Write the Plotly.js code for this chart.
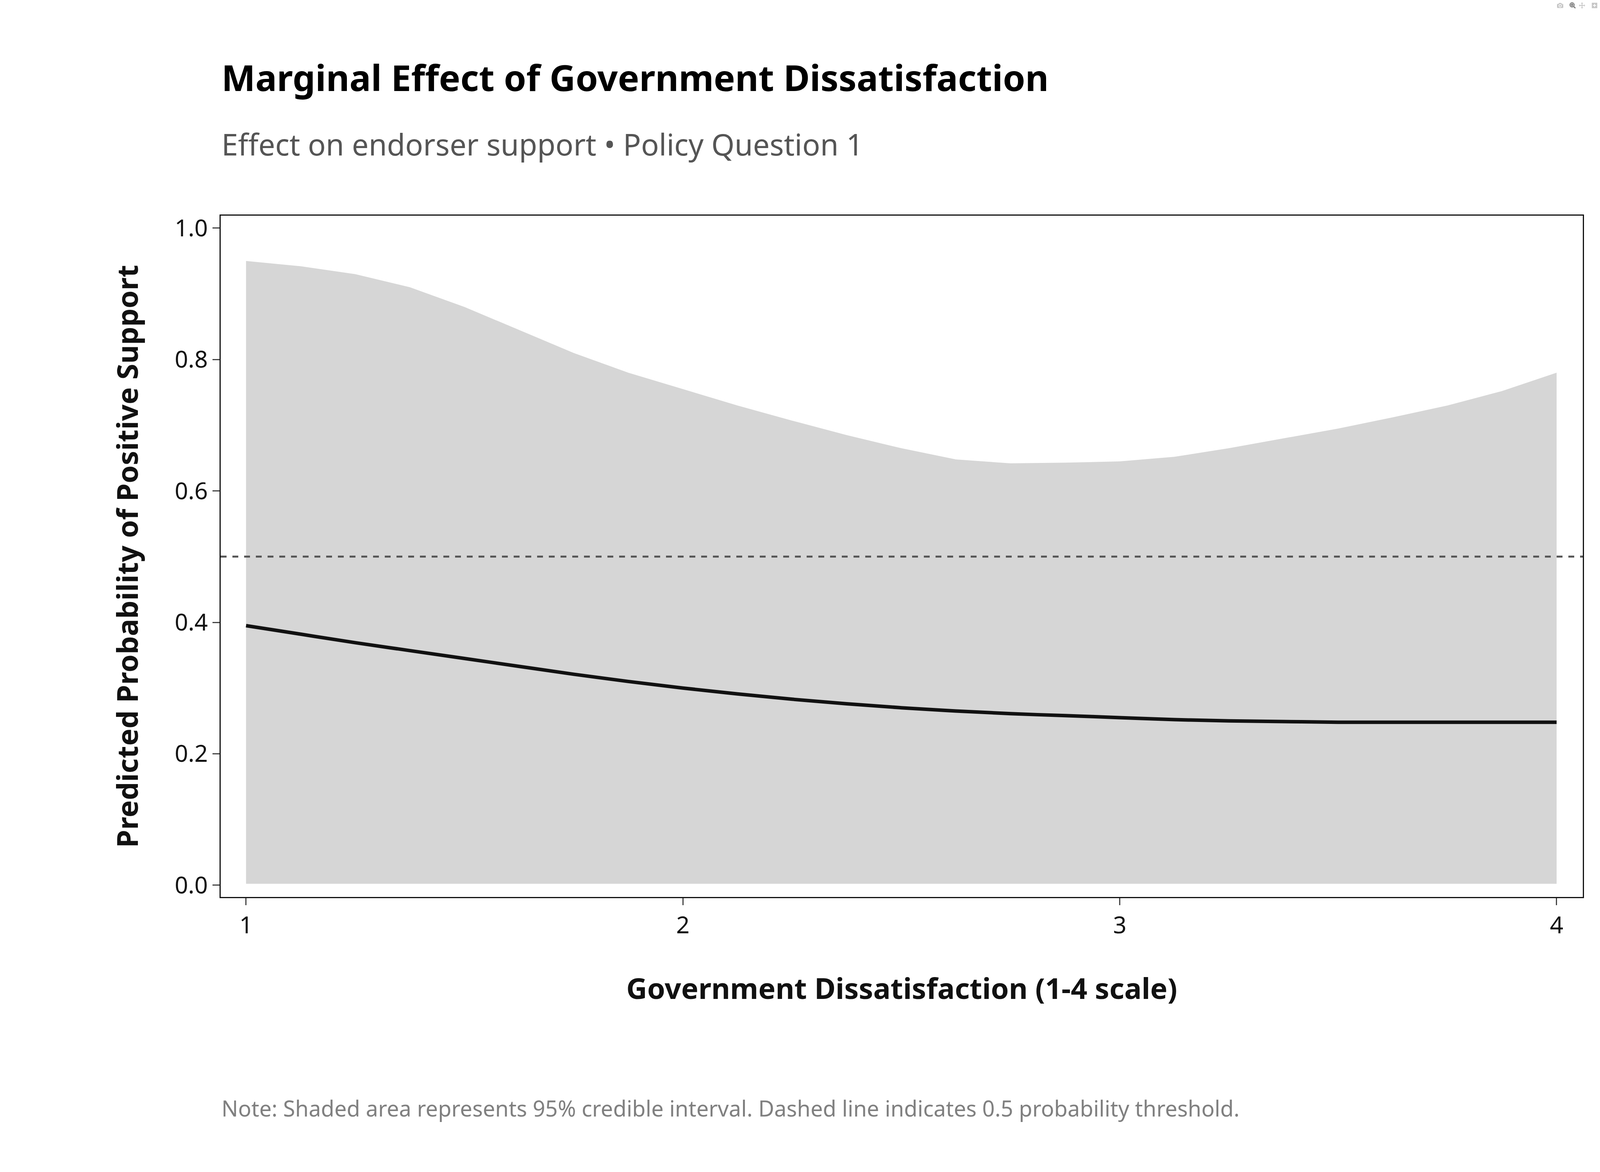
<!DOCTYPE html>
<html><head><meta charset="utf-8">
<script src="https://cdn.plot.ly/plotly-3.0.1.min.js"></script>
<style>body{margin:0;background:#fff}</style></head>
<body><div id="c" style="width:4200px;height:3000px"></div>
<script>
const xs = [1,1.125,1.25,1.375,1.5,1.625,1.75,1.875,2,2.125,2.25,2.375,2.5,2.625,2.75,2.875,3,3.125,3.25,3.375,3.5,3.625,3.75,3.875,4];
const upper = [0.95,0.942,0.93,0.91,0.88,0.845,0.81,0.78,0.755,0.73,0.707,0.685,0.665,0.648,0.642,0.643,0.645,0.652,0.665,0.68,0.695,0.712,0.73,0.752,0.78];
const lower = [0.002,0.002,0.002,0.002,0.002,0.002,0.002,0.002,0.002,0.002,0.002,0.002,0.002,0.002,0.002,0.002,0.002,0.002,0.002,0.002,0.002,0.002,0.002,0.002,0.002];
const mean = [0.395,0.382,0.369,0.357,0.345,0.333,0.321,0.31,0.3,0.291,0.283,0.276,0.27,0.265,0.261,0.258,0.255,0.252,0.25,0.249,0.248,0.248,0.248,0.248,0.248];
const F = 'Noto Sans, Open Sans, sans-serif';
Plotly.newPlot('c', [
 {x:xs,y:lower,mode:'lines',line:{width:0},hoverinfo:'skip',showlegend:false},
 {x:xs,y:upper,mode:'lines',line:{width:0},fill:'tonexty',fillcolor:'#d6d6d6',showlegend:false},
 {x:[0.942,4.06],y:[0.5,0.5],mode:'lines',line:{color:'#555',width:5,dash:'dash'},showlegend:false},
 {x:xs,y:mean,mode:'lines',line:{color:'#111',width:9,shape:'spline'},showlegend:false}
],{
 width:4200,height:3000,paper_bgcolor:'#fff',plot_bgcolor:'#fff',
 margin:{l:565,r:148,t:552,b:704},
 font:{family:F,color:'#111'},
 xaxis:{range:[0.942,4.06],tickvals:[1,2,3,4],ticktext:['1','2','3','4'],showgrid:false,zeroline:false,
   showline:true,mirror:true,linecolor:'#111',linewidth:3,ticks:'outside',ticklen:18,tickwidth:3,
   tickfont:{size:60,family:F},
   title:{text:'<b>Government Dissatisfaction (1-4 scale)</b>',font:{size:74,family:F},standoff:100}},
 yaxis:{range:[-0.018,1.019],tickvals:[0,0.2,0.4,0.6,0.8,1.0],ticktext:['0.0','0.2','0.4','0.6','0.8','1.0'],showgrid:false,zeroline:false,
   showline:true,mirror:true,linecolor:'#111',linewidth:3,ticks:'outside',ticklen:18,tickwidth:3,
   tickfont:{size:60,family:F},
   title:{text:'<b>Predicted Probability of Positive Support</b>',font:{size:74,family:F},standoff:70}},
 annotations:[
  {xref:'paper',yref:'paper',x:0,y:1,xshift:0,yshift:0,xanchor:'left',yanchor:'bottom',showarrow:false,
   text:'<b>Marginal Effect of Government Dissatisfaction</b>',font:{size:92,family:F,color:'#000'},
   xref:'paper',yref:'paper',ay:0},
 ].map(a=>Object.assign(a,{y:1,yshift:290})).concat([
  {xref:'paper',yref:'paper',x:0,y:1,yshift:130,xanchor:'left',yanchor:'bottom',showarrow:false,
   text:'Effect on endorser support • Policy Question 1',font:{size:76,family:F,color:'#555'}},
  {xref:'paper',yref:'paper',x:0,y:0,yshift:-500,xanchor:'left',yanchor:'top',showarrow:false,
   text:'Note: Shaded area represents 95% credible interval. Dashed line indicates 0.5 probability threshold.',font:{size:56,family:F,color:'#808080'}}
 ])
});
</script></body></html>
